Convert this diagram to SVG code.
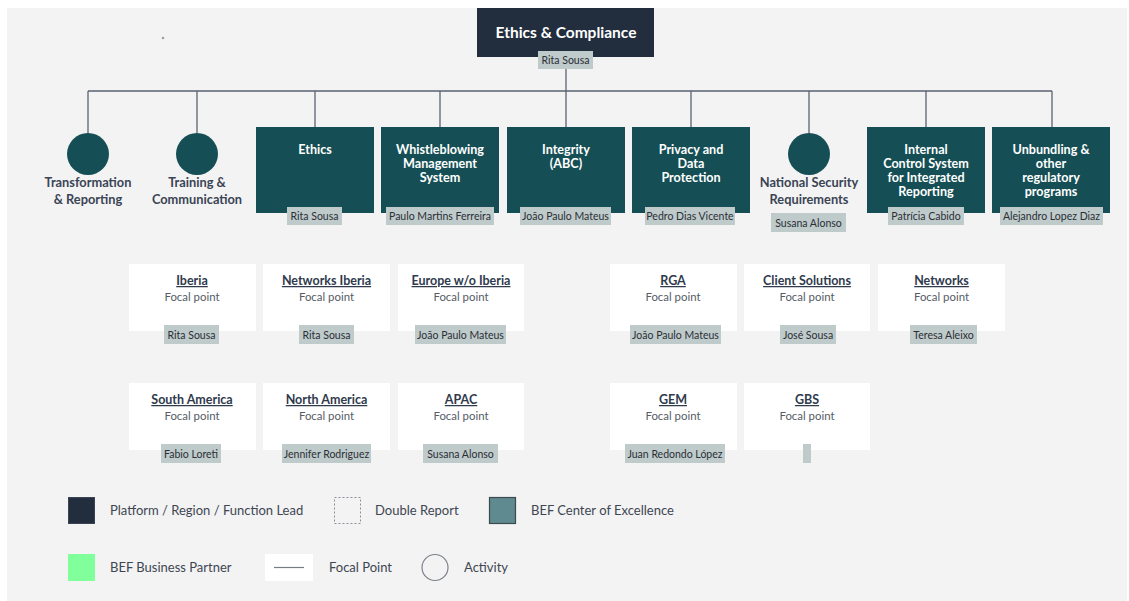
<svg xmlns="http://www.w3.org/2000/svg" width="1129" height="601" viewBox="0 0 1129 601">
  <style>
    text { font-family: "Lato", "Noto Sans", "Liberation Sans", sans-serif; }
    .lead { fill: #222e3e; }
    .coe { fill: #154f55; }
    .title-w { fill: #ffffff; font-size: 12.6px; font-weight: 700; text-anchor: middle; }
    .title-top { fill: #ffffff; font-size: 15.5px; font-weight: 700; text-anchor: middle; }
    .tag { fill: #bfcaca; }
    .tag-t { fill: #2a2f36; font-size: 10.5px; text-anchor: middle; }
    .act-t { fill: #3a4455; font-size: 12.8px; font-weight: 700; text-anchor: middle; }
    .fp { fill: #ffffff; }
    .fp-h { fill: #2f3a4d; font-size: 12.5px; font-weight: 700; text-anchor: middle; text-decoration: underline; }
    .fp-s { fill: #555c66; font-size: 11.4px; text-anchor: middle; }
    .wire { stroke: #5a6270; stroke-width: 1.3; fill: none; }
    .leg-t { fill: #3e4652; font-size: 13px; }
  </style>

  <!-- canvas -->
  <rect x="0" y="0" width="1129" height="601" fill="#ffffff"/>
  <rect x="7" y="8" width="1120" height="593" fill="#f3f3f3"/>
  <circle cx="163" cy="38" r="1.3" fill="#9aa0a6"/>

  <!-- connectors -->
  <g id="connectors" class="wire">
    <line x1="566" y1="69" x2="566" y2="91"/>
    <line x1="88" y1="91" x2="1052" y2="91"/>
    <line x1="88" y1="91" x2="88" y2="133"/>
    <line x1="197" y1="91" x2="197" y2="133"/>
    <line x1="315" y1="91" x2="315" y2="127"/>
    <line x1="440" y1="91" x2="440" y2="127"/>
    <line x1="566" y1="91" x2="566" y2="127"/>
    <line x1="691" y1="91" x2="691" y2="127"/>
    <line x1="809" y1="91" x2="809" y2="133"/>
    <line x1="926" y1="91" x2="926" y2="127"/>
    <line x1="1052" y1="91" x2="1052" y2="127"/>
  </g>

  <!-- top lead -->
  <g id="ethics-compliance">
    <rect class="lead" x="477" y="8" width="177" height="49"/>
    <text class="title-top" x="566" y="38">Ethics &amp; Compliance</text>
    <rect class="tag" x="538" y="51" width="55" height="18"/>
    <text class="tag-t" x="565.5" y="64">Rita Sousa</text>
  </g>

  <!-- activities -->
  <g id="transformation-reporting">
    <circle class="coe" cx="88" cy="154" r="21"/>
    <text class="act-t" x="88" y="187">Transformation</text>
    <text class="act-t" x="88" y="204">&amp; Reporting</text>
  </g>
  <g id="training-communication">
    <circle class="coe" cx="197" cy="154" r="21"/>
    <text class="act-t" x="197" y="187">Training &amp;</text>
    <text class="act-t" x="197" y="204">Communication</text>
  </g>
  <g id="national-security">
    <circle class="coe" cx="809" cy="154" r="21"/>
    <text class="act-t" x="809" y="187">National Security</text>
    <text class="act-t" x="809" y="204">Requirements</text>
    <rect class="tag" x="771" y="213" width="75" height="19"/>
    <text class="tag-t" x="808.5" y="226.5">Susana Alonso</text>
  </g>

  <!-- centers of excellence -->
  <g id="ethics">
    <rect class="coe" x="256" y="127" width="118" height="86"/>
    <text class="title-w" x="315" y="154">Ethics</text>
    <rect class="tag" x="287" y="207" width="55" height="18"/>
    <text class="tag-t" x="314.5" y="220">Rita Sousa</text>
  </g>
  <g id="whistleblowing">
    <rect class="coe" x="381" y="127" width="118" height="86"/>
    <text class="title-w" x="440" y="154">Whistleblowing</text>
    <text class="title-w" x="440" y="168">Management</text>
    <text class="title-w" x="440" y="182">System</text>
    <rect class="tag" x="386" y="207" width="108" height="18"/>
    <text class="tag-t" x="440" y="220">Paulo Martins Ferreira</text>
  </g>
  <g id="integrity">
    <rect class="coe" x="507" y="127" width="118" height="86"/>
    <text class="title-w" x="566" y="154">Integrity</text>
    <text class="title-w" x="566" y="168">(ABC)</text>
    <rect class="tag" x="520" y="207" width="91" height="18"/>
    <text class="tag-t" x="565.5" y="220">João Paulo Mateus</text>
  </g>
  <g id="privacy">
    <rect class="coe" x="632" y="127" width="118" height="86"/>
    <text class="title-w" x="691" y="154">Privacy and</text>
    <text class="title-w" x="691" y="168">Data</text>
    <text class="title-w" x="691" y="182">Protection</text>
    <rect class="tag" x="645" y="207" width="90" height="18"/>
    <text class="tag-t" x="690" y="220">Pedro Dias Vicente</text>
  </g>
  <g id="internal-control">
    <rect class="coe" x="867" y="127" width="118" height="86"/>
    <text class="title-w" x="926" y="154">Internal</text>
    <text class="title-w" x="926" y="168">Control System</text>
    <text class="title-w" x="926" y="182">for Integrated</text>
    <text class="title-w" x="926" y="196">Reporting</text>
    <rect class="tag" x="888" y="207" width="76" height="18"/>
    <text class="tag-t" x="926" y="220">Patrícia Cabido</text>
  </g>
  <g id="unbundling">
    <rect class="coe" x="992" y="127" width="118" height="86"/>
    <text class="title-w" x="1051" y="154">Unbundling &amp;</text>
    <text class="title-w" x="1051" y="168">other</text>
    <text class="title-w" x="1051" y="182">regulatory</text>
    <text class="title-w" x="1051" y="196">programs</text>
    <rect class="tag" x="1000" y="207" width="103" height="18"/>
    <text class="tag-t" x="1051.5" y="220">Alejandro Lopez Diaz</text>
  </g>

  <!-- focal points, first row -->
  <g id="fp-iberia">
    <rect class="fp" x="129" y="264" width="127" height="67"/>
    <text class="fp-h" x="192" y="285">Iberia</text>
    <text class="fp-s" x="192" y="301">Focal point</text>
    <rect class="tag" x="164" y="325" width="55" height="19"/>
    <text class="tag-t" x="191.5" y="338.5">Rita Sousa</text>
  </g>
  <g id="fp-networks-iberia">
    <rect class="fp" x="263" y="264" width="127" height="67"/>
    <text class="fp-h" x="326.5" y="285">Networks Iberia</text>
    <text class="fp-s" x="326.5" y="301">Focal point</text>
    <rect class="tag" x="299" y="325" width="55" height="19"/>
    <text class="tag-t" x="326.5" y="338.5">Rita Sousa</text>
  </g>
  <g id="fp-europe">
    <rect class="fp" x="398" y="264" width="126" height="67"/>
    <text class="fp-h" x="461" y="285">Europe w/o Iberia</text>
    <text class="fp-s" x="461" y="301">Focal point</text>
    <rect class="tag" x="415" y="325" width="91" height="19"/>
    <text class="tag-t" x="460.5" y="338.5">João Paulo Mateus</text>
  </g>
  <g id="fp-rga">
    <rect class="fp" x="610" y="264" width="127" height="67"/>
    <text class="fp-h" x="673" y="285">RGA</text>
    <text class="fp-s" x="673" y="301">Focal point</text>
    <rect class="tag" x="630" y="325" width="91" height="19"/>
    <text class="tag-t" x="675.5" y="338.5">João Paulo Mateus</text>
  </g>
  <g id="fp-client-solutions">
    <rect class="fp" x="744" y="264" width="126" height="67"/>
    <text class="fp-h" x="807" y="285">Client Solutions</text>
    <text class="fp-s" x="807" y="301">Focal point</text>
    <rect class="tag" x="780" y="325" width="56" height="19"/>
    <text class="tag-t" x="808" y="338.5">José Sousa</text>
  </g>
  <g id="fp-networks">
    <rect class="fp" x="878" y="264" width="127" height="67"/>
    <text class="fp-h" x="941.5" y="285">Networks</text>
    <text class="fp-s" x="941.5" y="301">Focal point</text>
    <rect class="tag" x="910" y="325" width="67" height="19"/>
    <text class="tag-t" x="943.5" y="338.5">Teresa Aleixo</text>
  </g>

  <!-- focal points, second row -->
  <g id="fp-south-america">
    <rect class="fp" x="129" y="383" width="127" height="67"/>
    <text class="fp-h" x="192" y="404">South America</text>
    <text class="fp-s" x="192" y="420">Focal point</text>
    <rect class="tag" x="161" y="444" width="60" height="19"/>
    <text class="tag-t" x="191" y="457.5">Fabio Loreti</text>
  </g>
  <g id="fp-north-america">
    <rect class="fp" x="263" y="383" width="127" height="67"/>
    <text class="fp-h" x="326.5" y="404">North America</text>
    <text class="fp-s" x="326.5" y="420">Focal point</text>
    <rect class="tag" x="282" y="444" width="89" height="19"/>
    <text class="tag-t" x="326.5" y="457.5">Jennifer Rodriguez</text>
  </g>
  <g id="fp-apac">
    <rect class="fp" x="398" y="383" width="126" height="67"/>
    <text class="fp-h" x="461" y="404">APAC</text>
    <text class="fp-s" x="461" y="420">Focal point</text>
    <rect class="tag" x="423" y="444" width="75" height="19"/>
    <text class="tag-t" x="460.5" y="457.5">Susana Alonso</text>
  </g>
  <g id="fp-gem">
    <rect class="fp" x="610" y="383" width="127" height="67"/>
    <text class="fp-h" x="673" y="404">GEM</text>
    <text class="fp-s" x="673" y="420">Focal point</text>
    <rect class="tag" x="625" y="444" width="100" height="19"/>
    <text class="tag-t" x="675" y="457.5">Juan Redondo López</text>
  </g>
  <g id="fp-gbs">
    <rect class="fp" x="744" y="383" width="126" height="67"/>
    <text class="fp-h" x="807" y="404">GBS</text>
    <text class="fp-s" x="807" y="420">Focal point</text>
    <rect class="tag" x="803" y="444" width="8" height="19"/>
  </g>

  <!-- legend -->
  <g id="legend">
    <rect x="68.5" y="497.5" width="26" height="26" fill="#222e3e" stroke="#3a4452" stroke-width="1"/>
    <text class="leg-t" x="110" y="515">Platform / Region / Function Lead</text>
    <rect x="334.5" y="497.5" width="26" height="26" fill="none" stroke="#8a9099" stroke-width="1" stroke-dasharray="2,2"/>
    <text class="leg-t" x="375" y="515">Double Report</text>
    <rect x="489.5" y="497.5" width="26" height="26" fill="#5f8a8f" stroke="#3b4a4c" stroke-width="1.2"/>
    <text class="leg-t" x="531" y="515">BEF Center of Excellence</text>

    <rect x="68" y="554" width="27" height="27" fill="#80ff9a"/>
    <text class="leg-t" x="110" y="572">BEF Business Partner</text>
    <rect x="265" y="554" width="48" height="27" fill="#ffffff"/>
    <line x1="274" y1="567.5" x2="304" y2="567.5" stroke="#777d85" stroke-width="1.2"/>
    <text class="leg-t" x="329" y="572">Focal Point</text>
    <circle cx="435" cy="567.5" r="13" fill="none" stroke="#7d838b" stroke-width="1.2"/>
    <text class="leg-t" x="464" y="572">Activity</text>
  </g>
</svg>
